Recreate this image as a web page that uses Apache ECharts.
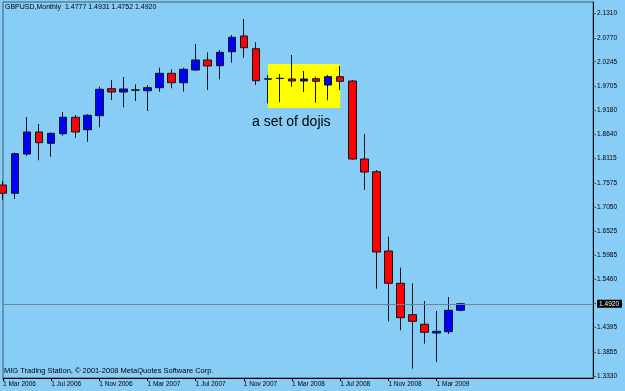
<!DOCTYPE html>
<html><head><meta charset="utf-8">
<script src="https://cdn.jsdelivr.net/npm/echarts@6/dist/echarts.min.js"></script>
<style>html,body{margin:0;padding:0;background:#88cdf6;}#c{width:625px;height:391px;}</style>
</head><body><div id="c"></div>
<script>
// ---- data (GBPUSD monthly) ----
const months = ['Mar 2006','Apr 2006','May 2006','Jun 2006','Jul 2006','Aug 2006','Sep 2006','Oct 2006','Nov 2006','Dec 2006',
  'Jan 2007','Feb 2007','Mar 2007','Apr 2007','May 2007','Jun 2007','Jul 2007','Aug 2007','Sep 2007','Oct 2007','Nov 2007','Dec 2007',
  'Jan 2008','Feb 2008','Mar 2008','Apr 2008','May 2008','Jun 2008','Jul 2008','Aug 2008','Sep 2008','Oct 2008','Nov 2008','Dec 2008',
  'Jan 2009','Feb 2009','Mar 2009','Apr 2009','May 2009'];
const opens  = [1.7532,1.7350,1.8214,1.8699,1.8450,1.8661,1.9022,1.8749,1.9057,1.9651,
  1.9579,1.9625,1.9607,1.9673,1.9990,1.9783,2.0063,2.0283,2.0157,2.0465,2.0811,2.0531,
  1.9862,1.9880,1.9865,1.9821,1.9871,1.9733,1.9915,1.9821,1.8104,1.7825,1.6080,1.5370,
  1.4679,1.4468,1.4276,1.4305,1.4777];
const highs  = [1.7620,1.8243,1.9029,1.8874,1.8688,1.9139,1.9073,1.9088,1.9695,1.9843,
  1.9909,1.9748,1.9726,2.0113,2.0078,2.0113,2.0635,2.0452,2.0503,2.0833,2.1185,2.0672,
  1.9953,1.9975,2.0393,2.0041,1.9915,1.9953,2.0151,1.9843,1.8654,1.7862,1.6395,1.5713,
  1.5370,1.4980,1.4760,1.5068,1.4931];
const lows   = [1.7202,1.7224,1.8177,1.8076,1.8155,1.8617,1.8573,1.8485,1.8802,1.9403,
  1.9242,1.9381,1.9161,1.9585,1.9660,1.9585,2.0048,1.9623,1.9858,2.0223,2.0333,1.9733,
  1.9330,1.9352,1.9695,1.9579,1.9343,1.9396,1.9623,1.8093,1.7429,1.5251,1.4534,1.4336,
  1.3491,1.4041,1.3638,1.4254,1.4752];
const closes = [1.7350,1.8221,1.8699,1.8463,1.8670,1.9022,1.8699,1.9066,1.9638,1.9579,
  1.9645,1.9620,1.9673,1.9990,1.9783,2.0078,2.0283,2.0151,2.0452,2.0782,2.0553,1.9827,
  1.9868,1.9875,1.9821,1.9865,1.9814,1.9915,1.9814,1.8104,1.7818,1.6058,1.5370,1.4613,
  1.4534,1.4292,1.4313,1.4775,1.4920];
const priceTicks = [2.1310,2.0770,2.0245,1.9705,1.9180,1.8640,1.8115,1.7575,1.7050,1.6525,1.5985,1.5460,1.4920,1.4395,1.3855,1.3330];
const symbolName = 'GBPUSD,Monthly';
const dojiBox = {from:'Jan 2008', to:'Jul 2008', top:2.0195, bottom:1.9227};
const dojiNote = 'a set of dojis';
const footer = 'MIG Trading Station, \u00A9 2001-2008 MetaQuotes Software Corp.';
const emptySlots = 11;

// ---- build ----
const cats = months.concat(Array.from({length: emptySlots}, (_, i) => 'pad' + i));
const ohlc = months.map((_, i) => [opens[i], closes[i], lows[i], highs[i]]);
const n = months.length;
const last = n - 1;
const lastClose = closes[last];
const showIdx = (idx) => idx % 4 === 0 && idx < n;
const fmt = v => v.toFixed(4);
const FONT = 'Liberation Sans';

const chart = echarts.init(document.getElementById('c'), null, {renderer:'canvas'});
chart.setOption({
  animation: false,
  backgroundColor: '#88cdf6',
  grid: {left: 2, right: 29, top: 2, bottom: 13, show: true, borderColor: '#3d5d72', borderWidth: 1},
  xAxis: {
    type: 'category', data: cats, boundaryGap: false,
    axisLine: {lineStyle: {color: '#000', width: 1}},
    axisTick: {interval: showIdx, length: 3, lineStyle: {color: '#000'}},
    axisLabel: {interval: showIdx, formatter: v => '1 ' + v, align: 'left', margin: 3,
      fontSize: 6.5, fontFamily: FONT, color: '#000'},
    splitLine: {show: false}
  },
  yAxis: {
    type: 'value', position: 'right', min: 1.3286, max: 2.1559,
    splitLine: {show: false},
    axisLine: {show: true, lineStyle: {color: '#000', width: 1}},
    axisTick: {show: true, customValues: priceTicks, length: 3, lineStyle: {color: '#555'}},
    axisLabel: {customValues: priceTicks, margin: 4, fontSize: 6.5, fontFamily: FONT, color: '#000',
      formatter: v => Math.abs(v - lastClose) < 1e-6 ? '{cur|' + fmt(v) + '}' : fmt(v),
      rich: {cur: {backgroundColor: '#000', color: '#fff', padding: [1, 3, 0, 2], fontSize: 6.5, fontFamily: FONT}}}
  },
  graphic: [
    {type: 'text', x: 5, y: 7, style: {text: symbolName + '  ' + [opens[last], highs[last], lows[last], closes[last]].map(fmt).join(' '),
      font: '7px "' + FONT + '"', fill: '#000', verticalAlign: 'middle'}},
    {type: 'text', x: 4, y: 371, style: {text: footer, font: '7.5px "' + FONT + '"', fill: '#000', verticalAlign: 'middle'}},
    {type: 'text', x: 252, y: 122.5, z: 10, style: {text: dojiNote, font: '14px "' + FONT + '"', fill: '#000', verticalAlign: 'middle'}}
  ],
  series: [
    {
      type: 'line', data: [], z: 1, silent: true,
      markArea: {silent: true, itemStyle: {color: '#ffff00', opacity: 1}, label: {show: false},
        data: [[{xAxis: dojiBox.from, yAxis: dojiBox.top}, {xAxis: dojiBox.to, yAxis: dojiBox.bottom}]]}
    },
    {
      type: 'candlestick', data: ohlc, z: 3, barWidth: 8, clip: false,
      itemStyle: {color: '#0000ff', color0: '#ff0000', borderColor: '#0a1520', borderColor0: '#0a1520',
        borderColorDoji: '#0a1520', borderWidth: 1},
      markLine: {silent: true, symbol: ['none', 'none'], label: {show: false},
        lineStyle: {color: '#6f8596', width: 1, type: 'solid'},
        data: [{yAxis: lastClose}]}
    }
  ]
});
</script>
</body></html>
